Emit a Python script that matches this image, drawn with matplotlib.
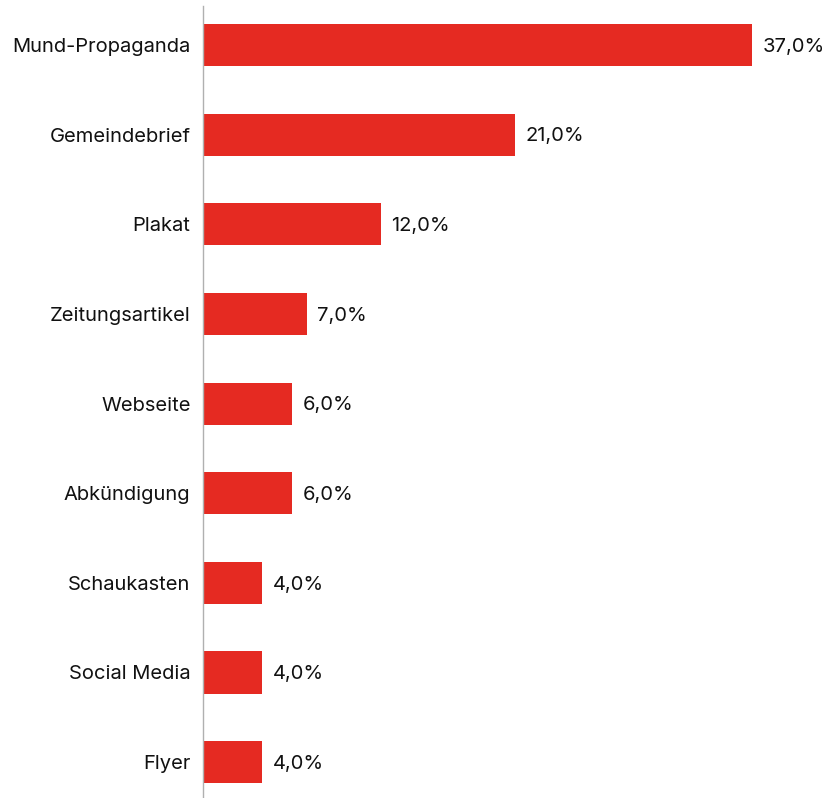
import matplotlib.pyplot as plt

# Data
categories = ["Mund-Propaganda", "Gemeindebrief", "Plakat", "Zeitungsartikel",
              "Webseite", "Abkündigung", "Schaukasten", "Social Media", "Flyer"]
values = [37.0, 21.0, 12.0, 7.0, 6.0, 6.0, 4.0, 4.0, 4.0]
value_labels = ["37,0%", "21,0%", "12,0%", "7,0%", "6,0%", "6,0%", "4,0%", "4,0%", "4,0%"]

plt.rcParams['font.family'] = ['Inter', 'DejaVu Sans']

fig = plt.figure(figsize=(8.28, 7.98), dpi=100)
ax = fig.add_axes([203 / 828, 0, 625 / 828, 792 / 798])

pos = list(range(len(categories)))
ax.barh(pos, values, height=0.47, color="#E52A22")

for p, v, lab in zip(pos, values, value_labels):
    ax.text(v + 0.7, p + 0.02, lab, va="center", ha="left", fontsize=14.5, color="#111111")

ax.set_yticks(pos)
ax.set_yticklabels(categories, fontsize=14.5, color="#111111")
ax.tick_params(axis="y", length=0, pad=9)
ax.set_xticks([])
ax.set_xlim(0, 625 / 14.84)
ax.set_ylim(len(categories) - 1 + 0.40, -0.435)

for side in ["top", "right", "bottom"]:
    ax.spines[side].set_visible(False)
ax.spines["left"].set_color("#b0b0b0")
ax.spines["left"].set_linewidth(1.0)

fig.savefig("out.png", dpi=100)
